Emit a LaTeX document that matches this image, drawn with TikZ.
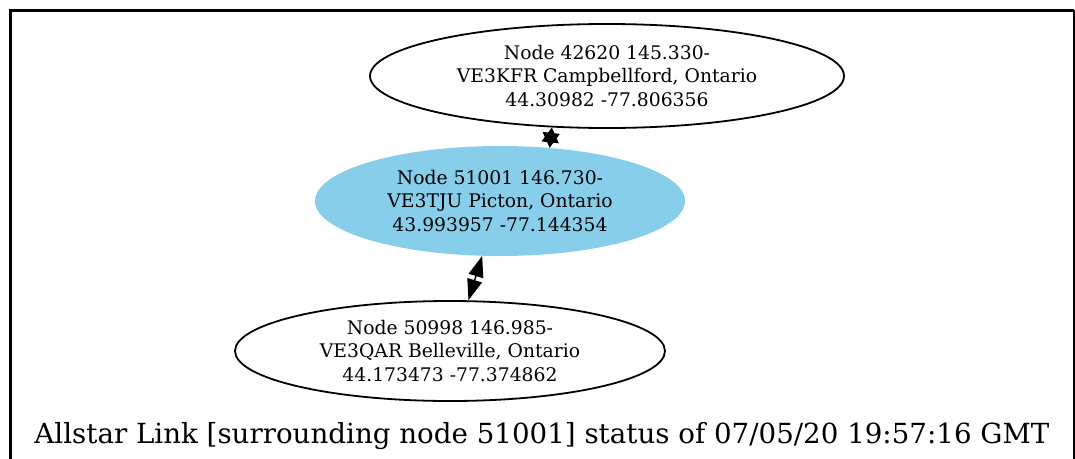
\documentclass[tikz,border=0pt]{standalone}
\usepackage{fontspec}
\setmainfont{DejaVu Serif}
\usetikzlibrary{shapes.geometric,arrows.meta}
\definecolor{gvsky}{HTML}{87CEEB}
\tikzset{
  gvnode/.style={ellipse, inner sep=0pt, align=center, font=\fontsize{18.75}{23.5}\selectfont},
  gvline/.style={draw, line width=1.8pt},
  gvedge/.style={line width=1.5pt, {Triangle[length=21pt,width=15pt]}-{Triangle[length=21pt,width=15pt]}},
  gvshort/.style={line width=1.5pt, {Triangle[length=15pt,width=17pt]}-{Triangle[length=15pt,width=17pt]}},
}
\begin{document}
\begin{tikzpicture}[x=1pt,y=-1pt]
\useasboundingbox (0,0) rectangle (1075,458);
\fill[white] (0,0) rectangle (1075,458);
\draw[line width=2.7pt] (10.3,470) -- (10.3,10.3) -- (1073.5,10.3);
\draw[line width=2pt] (1073.5,10.3) -- (1073.5,470);
\node[gvnode, gvline, minimum width=474pt, minimum height=104pt] (n42620) at (607,76)
  {Node 42620 145.330-\\VE3KFR Campbellford, Ontario\\44.30982 -77.806356};
\node[gvnode, fill=gvsky, minimum width=370pt, minimum height=110pt] (n51001) at (500,201)
  {Node 51001 146.730-\\VE3TJU Picton, Ontario\\43.993957 -77.144354};
\node[gvnode, gvline, minimum width=430pt, minimum height=100pt] (n50998) at (450,351)
  {Node 50998 146.985-\\VE3QAR Belleville, Ontario\\44.173473 -77.374862};
\draw[gvshort] (n42620.223) -- (n51001.47);
\draw[gvedge] (n51001.252.5) -- (n50998.70.2);
\node[anchor=base, inner sep=0pt] (caption) at (542,443)
  {\resizebox{1015pt}{!}{Allstar Link [surrounding node 51001] status of 07/05/20 19:57:16 GMT}};
\end{tikzpicture}
\end{document}
